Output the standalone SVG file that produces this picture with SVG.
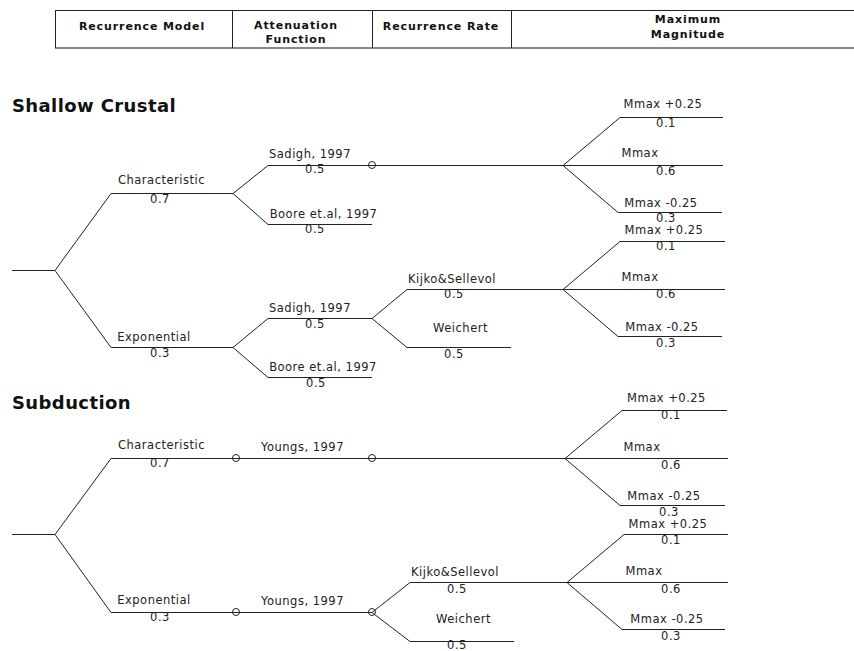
<svg xmlns="http://www.w3.org/2000/svg" width="854" height="651" viewBox="0 0 854 651">
<style>
.bg{fill:#fff}
.ln{stroke:#222;stroke-width:1;fill:none}
.hd{stroke:#222;stroke-width:1;fill:none}
.hdb{stroke:#888;stroke-width:2;fill:none}
.dot{stroke:#222;stroke-width:1;fill:none}
.t{font-family:"DejaVu Sans",Verdana,sans-serif;font-size:11.5px;letter-spacing:0.5px;fill:#222;text-anchor:middle}
.h{font-family:"DejaVu Sans",Verdana,sans-serif;font-size:11px;font-weight:bold;letter-spacing:0.9px;fill:#111;text-anchor:middle}
.title{font-family:"DejaVu Sans",Verdana,sans-serif;font-size:18px;font-weight:bold;letter-spacing:0.4px;fill:#111}
</style>
<rect class="bg" x="0" y="0" width="854" height="651"/>

<g id="header">
<line class="hd" x1="55" y1="10.5" x2="866" y2="10.5"/>
<line class="hdb" x1="55" y1="48" x2="866" y2="48"/>
<line class="hd" x1="55.5" y1="10" x2="55.5" y2="48"/>
<line class="hd" x1="232.5" y1="10" x2="232.5" y2="48"/>
<line class="hd" x1="372.5" y1="10" x2="372.5" y2="48"/>
<line class="hd" x1="511.5" y1="10" x2="511.5" y2="48"/>
<text class="h" x="142" y="30">Recurrence Model</text>
<text class="h" x="296" y="29">Attenuation</text>
<text class="h" x="296" y="43">Function</text>
<text class="h" x="441" y="30">Recurrence Rate</text>
<text class="h" x="688" y="23">Maximum</text>
<text class="h" x="688" y="38">Magnitude</text>
</g>

<text class="title" x="12" y="112">Shallow Crustal</text>
<text class="title" x="12" y="409">Subduction</text>

<g id="connectors">
<path class="ln" d="M12,270.5 H55 M55,270.5 L111,193.5 M55,270.5 L111,347.5"/>
<path class="ln" d="M233,193.5 L268,165.5 M233,193.5 L268,224.5"/>
<path class="ln" d="M233,347.5 L268,318.5 M233,347.5 L268,377.5"/>
<path class="ln" d="M372,318.5 L407,289.5 M372,318.5 L407,347.5"/>
<path class="ln" d="M563,165.5 L620,117.5 M563,165.5 L618,212.5"/>
<path class="ln" d="M563,289.5 L620,241.5 M563,289.5 L618,336.5"/>
<path class="ln" d="M12,534.5 H55 M55,534.5 L111,458.5 M55,534.5 L111,612.5"/>
<path class="ln" d="M372,612.5 L410,582.5 M372,612.5 L410,641.5"/>
<path class="ln" d="M565,458.5 L622,410.5 M565,458.5 L620,505.5"/>
<path class="ln" d="M567,582.5 L624,534.5 M567,582.5 L622,629.5"/>
</g>

<g id="sc-characteristic">
<line class="ln" x1="111" y1="193.5" x2="233" y2="193.5"/>
<text class="t" x="161.5" y="184">Characteristic</text>
<text class="t" x="160" y="203">0.7</text>
</g>
<g id="sc-exponential">
<line class="ln" x1="111" y1="347.5" x2="233" y2="347.5"/>
<text class="t" x="154" y="341">Exponential</text>
<text class="t" x="160" y="357">0.3</text>
</g>
<g id="sc-char-sadigh">
<line class="ln" x1="268" y1="165.5" x2="563" y2="165.5"/>
<circle class="dot" cx="372" cy="165" r="3.5"/>
<text class="t" x="310" y="158">Sadigh, 1997</text>
<text class="t" x="315" y="173">0.5</text>
</g>
<g id="sc-char-boore">
<line class="ln" x1="268" y1="224.5" x2="372" y2="224.5"/>
<text class="t" x="323.5" y="218">Boore et.al, 1997</text>
<text class="t" x="315" y="233">0.5</text>
</g>
<g id="sc-exp-sadigh">
<line class="ln" x1="268" y1="318.5" x2="372" y2="318.5"/>
<text class="t" x="310" y="312">Sadigh, 1997</text>
<text class="t" x="315" y="328">0.5</text>
</g>
<g id="sc-exp-boore">
<line class="ln" x1="268" y1="377.5" x2="372" y2="377.5"/>
<text class="t" x="323" y="371">Boore et.al, 1997</text>
<text class="t" x="316" y="387">0.5</text>
</g>
<g id="sc-kijko">
<line class="ln" x1="407" y1="289.5" x2="563" y2="289.5"/>
<text class="t" x="452" y="283">Kijko&amp;Sellevol</text>
<text class="t" x="454" y="298">0.5</text>
</g>
<g id="sc-weichert">
<line class="ln" x1="407" y1="347.5" x2="511" y2="347.5"/>
<text class="t" x="460.5" y="332">Weichert</text>
<text class="t" x="454" y="358">0.5</text>
</g>
<g id="sc-mmax-a">
<line class="ln" x1="620" y1="117.5" x2="723" y2="117.5"/>
<line class="ln" x1="563" y1="165.5" x2="723" y2="165.5"/>
<line class="ln" x1="618" y1="212.5" x2="722" y2="212.5"/>
<text class="t" x="663" y="108">Mmax +0.25</text>
<text class="t" x="666" y="127">0.1</text>
<text class="t" x="640" y="157">Mmax</text>
<text class="t" x="666" y="175">0.6</text>
<text class="t" x="661" y="207">Mmax -0.25</text>
<text class="t" x="666" y="222">0.3</text>
</g>
<g id="sc-mmax-b">
<line class="ln" x1="620" y1="241.5" x2="725" y2="241.5"/>
<line class="ln" x1="563" y1="289.5" x2="725" y2="289.5"/>
<line class="ln" x1="618" y1="336.5" x2="722" y2="336.5"/>
<text class="t" x="664" y="234">Mmax +0.25</text>
<text class="t" x="666" y="250">0.1</text>
<text class="t" x="640" y="281">Mmax</text>
<text class="t" x="666" y="298">0.6</text>
<text class="t" x="662" y="331">Mmax -0.25</text>
<text class="t" x="666" y="347">0.3</text>
</g>

<g id="sd-characteristic">
<line class="ln" x1="111" y1="458.5" x2="565" y2="458.5"/>
<circle class="dot" cx="236" cy="458" r="3.5"/>
<circle class="dot" cx="372" cy="458" r="3.5"/>
<text class="t" x="161.5" y="449">Characteristic</text>
<text class="t" x="160" y="467">0.7</text>
<text class="t" x="302.5" y="451">Youngs, 1997</text>
</g>
<g id="sd-exponential">
<line class="ln" x1="111" y1="612.5" x2="372" y2="612.5"/>
<circle class="dot" cx="236" cy="612" r="3.5"/>
<circle class="dot" cx="372" cy="612" r="3.5"/>
<text class="t" x="154" y="604">Exponential</text>
<text class="t" x="160" y="621">0.3</text>
<text class="t" x="302.5" y="605">Youngs, 1997</text>
</g>
<g id="sd-kijko">
<line class="ln" x1="410" y1="582.5" x2="567" y2="582.5"/>
<text class="t" x="455" y="576">Kijko&amp;Sellevol</text>
<text class="t" x="457" y="593">0.5</text>
</g>
<g id="sd-weichert">
<line class="ln" x1="410" y1="641.5" x2="514" y2="641.5"/>
<text class="t" x="463.5" y="623">Weichert</text>
<text class="t" x="457" y="649">0.5</text>
</g>
<g id="sd-mmax-a">
<line class="ln" x1="622" y1="410.5" x2="727" y2="410.5"/>
<line class="ln" x1="565" y1="458.5" x2="728" y2="458.5"/>
<line class="ln" x1="620" y1="505.5" x2="725" y2="505.5"/>
<text class="t" x="666.5" y="402">Mmax +0.25</text>
<text class="t" x="671" y="419">0.1</text>
<text class="t" x="642" y="451">Mmax</text>
<text class="t" x="671" y="469">0.6</text>
<text class="t" x="664" y="500">Mmax -0.25</text>
<text class="t" x="669" y="516">0.3</text>
</g>
<g id="sd-mmax-b">
<line class="ln" x1="624" y1="534.5" x2="728" y2="534.5"/>
<line class="ln" x1="567" y1="582.5" x2="728" y2="582.5"/>
<line class="ln" x1="622" y1="629.5" x2="725" y2="629.5"/>
<text class="t" x="668" y="528">Mmax +0.25</text>
<text class="t" x="671" y="544">0.1</text>
<text class="t" x="644" y="575">Mmax</text>
<text class="t" x="671" y="593">0.6</text>
<text class="t" x="667" y="623">Mmax -0.25</text>
<text class="t" x="671" y="640">0.3</text>
</g>
</svg>
